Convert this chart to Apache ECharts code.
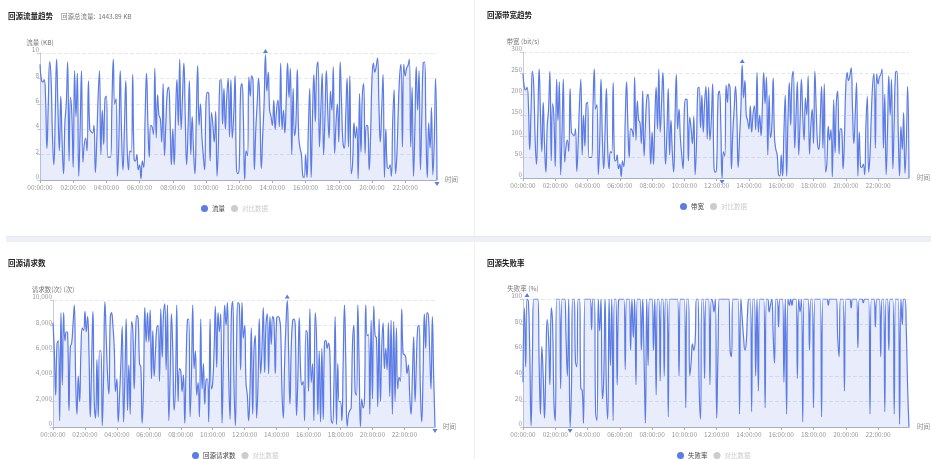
<!DOCTYPE html>
<html>
<head>
<meta charset="utf-8">
<script src="https://cdn.jsdelivr.net/npm/echarts@6/dist/echarts.min.js"></script>
<style>
  html, body { margin: 0; padding: 0; background: #fff; }
  #origin-dashboard { width: 931px; height: 459px; }
</style>
</head>
<body>
<div id="origin-dashboard"></div>
<script>
// 回源流量 (KB), 5 分钟粒度
var flowData = [
  9.1, 7.9, 7.7, 7.9, 6.5, 2.5, 6.0, 9.3, 8.0, 3.5, 1.2, 5.0, 9.5, 5.5, 2.3, 6.6, 3.0, 0.5, 4.5, 6.0, 9.3, 1.5, 6.5, 5.2,
  1.0, 8.6, 5.0, 8.4, 0.3, 4.0, 8.6, 1.4, 2.8, 3.3, 2.3, 7.8, 4.0, 3.8, 3.7, 4.3, 0.6, 3.0, 6.5, 8.6, 2.0, 5.5, 2.8, 6.4,
  6.6, 1.8, 1.8, 1.8, 6.0, 9.5, 6.0, 6.4, 0.3, 3.0, 8.6, 3.5, 0.8, 4.0, 7.8, 2.5, 0.8, 2.3, 2.2, 8.3, 1.7, 1.5, 2.0, 0.8,
  1.2, 0.1, 1.5, 1.0, 5.0, 8.4, 4.5, 1.8, 4.3, 4.2, 3.6, 8.8, 3.3, 6.7, 5.1, 4.8, 3.0, 7.6, 1.9, 4.5, 6.9, 7.3, 4.8, 1.2,
  4.0, 1.2, 5.0, 7.9, 4.3, 9.5, 4.0, 6.5, 9.2, 5.0, 1.2, 4.0, 7.8, 2.0, 5.0, 2.3, 0.5, 5.0, 9.0, 4.3, 6.0, 3.5, 2.0, 0.8,
  6.0, 6.9, 6.8, 1.5, 5.3, 4.3, 3.0, 5.4, 0.3, 3.0, 7.8, 7.9, 4.4, 7.2, 4.0, 6.5, 8.0, 3.4, 7.9, 3.3, 5.0, 8.2, 1.0, 0.5,
  1.0, 7.0, 7.6, 5.0, 0.05, 2.3, 1.9, 8.1, 6.6, 8.2, 7.8, 0.8, 4.0, 6.0, 8.0, 5.5, 0.9, 3.5, 6.0, 9.85, 7.0, 8.5, 5.5, 5.0,
  4.3, 6.3, 4.0, 5.5, 6.3, 4.2, 9.2, 4.0, 5.5, 3.7, 6.3, 9.2, 6.5, 8.8, 2.0, 7.2, 3.5, 4.5, 8.7, 3.5, 2.5, 2.0, 0.3, 0.2,
  2.0, 0.2, 4.0, 7.2, 0.2, 5.0, 8.3, 4.6, 8.6, 9.3, 2.6, 5.5, 8.4, 2.0, 5.0, 8.6, 5.5, 3.3, 7.0, 5.5, 8.9, 2.1, 4.5, 6.0,
  3.0, 9.3, 6.0, 3.0, 2.5, 5.0, 8.0, 2.6, 8.2, 0.5, 1.4, 4.5, 3.3, 4.2, 0.1, 6.8, 2.2, 6.6, 7.6, 2.1, 4.3, 4.2, 0.8, 3.5,
  8.0, 9.2, 8.5, 8.9, 9.6, 6.0, 3.0, 5.5, 8.3, 0.2, 4.0, 1.0, 0.9, 1.2, 0.3, 4.7, 7.1, 0.5, 2.0, 5.5, 8.2, 9.1, 2.6, 9.1,
  8.2, 8.8, 9.0, 9.5, 2.6, 7.3, 0.3, 4.0, 8.9, 5.5, 8.6, 0.8, 5.0, 9.2, 9.3, 4.0, 0.2, 4.5, 2.5, 5.7, 0.4, 3.0, 8.0, 0
];
// 回源带宽 (bit/s)
var bandwidthData = [
  248, 216, 210, 216, 177, 68, 164, 254, 218, 96, 33, 137, 259, 150, 63, 180, 82, 14, 123, 164, 254, 41, 177, 142,
  27, 235, 137, 229, 8, 109, 235, 38, 76, 90, 63, 213, 109, 104, 101, 117, 16, 82, 177, 235, 55, 150, 76, 175,
  180, 49, 49, 49, 164, 259, 164, 175, 8, 82, 235, 96, 22, 109, 213, 68, 22, 63, 60, 227, 46, 41, 55, 22,
  33, 3, 41, 27, 137, 229, 123, 49, 117, 115, 98, 240, 90, 183, 139, 131, 82, 207, 52, 123, 188, 199, 131, 33,
  109, 33, 137, 216, 117, 259, 109, 177, 251, 137, 33, 109, 213, 55, 137, 63, 14, 137, 246, 117, 164, 96, 55, 22,
  164, 188, 186, 41, 145, 117, 82, 147, 8, 82, 213, 216, 120, 197, 109, 177, 218, 93, 216, 90, 137, 224, 27, 14,
  27, 191, 207, 137, 0, 63, 52, 221, 180, 224, 213, 22, 109, 164, 218, 150, 25, 96, 164, 269, 191, 232, 150, 137,
  117, 172, 109, 150, 172, 115, 251, 109, 150, 101, 172, 251, 177, 240, 55, 197, 96, 123, 238, 96, 68, 55, 8, 5,
  55, 5, 109, 197, 5, 137, 227, 126, 235, 254, 71, 150, 229, 55, 137, 235, 150, 90, 191, 150, 243, 57, 123, 164,
  82, 254, 164, 82, 68, 137, 218, 71, 224, 14, 38, 123, 90, 115, 3, 186, 60, 180, 207, 57, 117, 115, 22, 96,
  218, 251, 232, 243, 262, 164, 82, 150, 227, 5, 109, 27, 25, 33, 8, 128, 194, 14, 55, 150, 224, 248, 71, 248,
  224, 240, 246, 259, 71, 199, 8, 109, 243, 150, 235, 22, 137, 251, 254, 109, 5, 123, 68, 156, 11, 82, 218, 0
];
// 回源请求数 (次)
var requestData = [
  8200, 6000, 2500, 6500, 6800, 500, 9000, 3300, 9000, 6800, 7500, 7400, 1300, 6300, 6600, 8000, 9600, 4000, 1000, 4000, 2000, 6000, 7800, 7600,
  9100, 7500, 8700, 6000, 800, 5000, 9100, 2000, 700, 5300, 800, 6000, 6000, 100, 4000, 9850, 7000, 4000, 2600, 8500, 9000, 8000, 6300, 2800,
  3800, 400, 2500, 5000, 7900, 400, 4000, 8500, 1300, 4900, 1000, 8300, 7500, 3000, 7000, 8800, 8500, 5000, 4700, 300, 3000, 9400, 6700, 9000,
  6700, 9200, 3800, 7600, 4000, 6000, 7800, 8000, 3600, 9300, 5500, 8800, 9700, 4500, 9600, 500, 4000, 8900, 6000, 1300, 3300, 9600, 2000, 4600,
  4400, 2800, 4100, 300, 5000, 8400, 8500, 800, 4000, 9600, 4600, 6000, 2500, 3500, 800, 8500, 3000, 5000, 1800, 3700, 3800, 400, 8500, 3000,
  3500, 6000, 9500, 4700, 9000, 7500, 8900, 300, 5000, 9600, 8000, 9800, 4000, 600, 8800, 9900, 3300, 100, 7000, 9800, 9600, 4500, 9800, 7000,
  8000, 3500, 2500, 500, 3000, 7800, 1000, 6000, 7200, 700, 3300, 8500, 4200, 6200, 9400, 4300, 8000, 8900, 4200, 8700, 6500, 8700, 8300, 4200,
  8500, 8700, 8600, 7800, 3000, 700, 5000, 8000, 9960, 6000, 1800, 6200, 8300, 8500, 8000, 900, 4000, 8600, 4500, 3300, 3600, 500, 7600, 7400,
  2800, 9300, 3500, 5000, 500, 9000, 7000, 1000, 6000, 400, 6200, 600, 6700, 6800, 6200, 6600, 5800, 600, 300, 3000, 8700, 200, 5000, 2000,
  2000, 500, 5000, 9600, 5000, 50, 1000, 1300, 1500, 6500, 8000, 2800, 2500, 9600, 5000, 50, 2200, 1500, 2200, 9600, 7200, 7300, 1000, 8400,
  2200, 9500, 7200, 7000, 1600, 8500, 2000, 6300, 8200, 4600, 6200, 4500, 8200, 2400, 8400, 1000, 8300, 2000, 7800, 3000, 3900, 3600, 9300, 5800,
  5700, 5500, 4200, 4900, 2500, 1000, 4000, 7100, 2000, 5000, 7800, 8000, 3000, 400, 4000, 8900, 6200, 9000, 8800, 6000, 3000, 8700, 4000, 0
];
// 回源失败率 (%)
var failRateData = [
  35, 93, 47, 100, 98, 60, 1, 55, 100, 100, 100, 100, 50, 10, 63, 40, 7, 50, 84, 70, 33, 93, 80, 20,
  5, 100, 100, 100, 30, 100, 100, 100, 70, 40, 100, 0, 30, 100, 100, 52, 47, 100, 100, 30, 29, 3, 100, 100,
  100, 100, 100, 76, 100, 100, 12, 5, 100, 75, 100, 22, 37, 100, 30, 6, 100, 48, 100, 5, 100, 100, 33, 98,
  100, 100, 100, 100, 45, 100, 100, 100, 60, 100, 70, 100, 33, 100, 100, 100, 60, 100, 55, 3, 100, 48, 100, 100,
  100, 60, 100, 25, 100, 100, 36, 100, 100, 40, 100, 100, 8, 100, 100, 100, 100, 100, 100, 100, 40, 100, 100, 100,
  100, 15, 100, 100, 40, 50, 65, 60, 67, 100, 100, 30, 6, 100, 100, 38, 100, 100, 100, 33, 100, 98, 90, 100,
  7, 60, 100, 100, 100, 100, 100, 100, 100, 100, 60, 55, 100, 100, 100, 100, 100, 10, 100, 85, 70, 60, 66, 90,
  100, 100, 12, 100, 100, 40, 100, 28, 100, 100, 100, 100, 15, 100, 100, 90, 95, 100, 73, 50, 100, 100, 78, 100,
  100, 100, 35, 100, 10, 100, 95, 100, 95, 100, 100, 100, 38, 100, 90, 100, 4, 100, 100, 100, 100, 60, 100, 100,
  15, 100, 100, 100, 100, 100, 8, 100, 100, 100, 100, 95, 100, 100, 100, 100, 100, 100, 70, 55, 100, 100, 100, 28,
  100, 100, 100, 100, 93, 100, 100, 100, 100, 62, 100, 100, 100, 97, 100, 100, 100, 100, 10, 100, 100, 100, 78, 100,
  100, 100, 55, 100, 100, 12, 100, 100, 60, 100, 100, 100, 10, 100, 100, 100, 2, 100, 80, 100, 100, 75, 30, 0
];

var panelTitles = ['回源流量趋势', '回源带宽趋势', '回源请求数', '回源失败率'];
var seriesNames = ['流量', '带宽', '回源请求数', '失败率'];
var axisNames = ['流量 (KB)', '带宽 (bit/s)', '请求数(次) (次)', '失败率 (%)'];
var yMax = [10, 300, 10000, 100];
var yInterval = [2, 50, 2000, 20];
var totalFlowText = '回源总流量:  1443.89 KB';
var compareName = '对比数据';

// x 轴: 00:00:00 ~ 23:55:00
var times = [];
for (var h = 0; h < 24; h++) {
  for (var m = 0; m < 60; m += 5) {
    times.push((h < 10 ? '0' : '') + h + ':' + (m < 10 ? '0' : '') + m + ':00');
  }
}

var lineColor = '#5b7be5';
var font = "'Noto Sans CJK SC', sans-serif";
var allData = [flowData, bandwidthData, requestData, failRateData];

var grids = [
  { left: 40, top: 53, width: 397, height: 127 },
  { left: 523, top: 52, width: 393, height: 126 },
  { left: 53, top: 300, width: 382, height: 127 },
  { left: 523, top: 299, width: 393, height: 128 }
];
var titlePos = [[8, 12], [487, 11], [8, 259], [487, 259]];
var legendPos = [[201, 205], [680, 203], [192, 452], [677, 452]];

var chart = echarts.init(document.getElementById('origin-dashboard'));

var option = {
  backgroundColor: '#fff',
  animation: false,
  textStyle: { fontFamily: font },
  title: [],
  legend: [],
  grid: grids,
  xAxis: [],
  yAxis: [],
  series: [],
  graphic: [
    { type: 'rect', shape: { x: 6, y: 236, width: 925, height: 6 }, style: { fill: '#eef0f7' }, silent: true },
    { type: 'rect', shape: { x: 6, y: 236, width: 925, height: 1 }, style: { fill: '#e3e6ef' }, silent: true },
    { type: 'rect', shape: { x: 474, y: 0, width: 1, height: 459 }, style: { fill: '#eceef4' }, silent: true }
  ]
};

for (var i = 0; i < 4; i++) {
  option.title.push({
    text: panelTitles[i],
    left: titlePos[i][0],
    top: titlePos[i][1],
    padding: 0,
    textStyle: { fontSize: 7.5, fontWeight: 'bold', color: '#222', fontFamily: font }
  });
  option.legend.push({
    data: [seriesNames[i], compareName],
    left: legendPos[i][0],
    top: legendPos[i][1],
    padding: 0,
    icon: 'circle',
    itemWidth: 7,
    itemHeight: 7,
    itemGap: 6,
    selected: { '对比数据': false },
    inactiveColor: '#ccc',
    textStyle: { fontSize: 6.5, color: '#444', padding: [0, 0, 0, -1] }
  });
  option.xAxis.push({
    type: 'category',
    gridIndex: i,
    data: times,
    boundaryGap: false,
    name: '时间',
    nameGap: 8,
    nameTextStyle: { fontSize: 6.5, color: '#888' },
    axisLine: { lineStyle: { color: '#a9afc2' } },
    axisTick: { interval: 23, length: 3, lineStyle: { color: '#a9afc2' } },
    axisLabel: { interval: 23, fontSize: 6.5, color: '#999', margin: 4 }
  });
  option.yAxis.push({
    type: 'value',
    gridIndex: i,
    min: 0,
    max: yMax[i],
    interval: yInterval[i],
    name: axisNames[i],
    nameGap: 7,
    nameTextStyle: { fontSize: 6.5, color: '#777' },
    axisLine: { show: true, lineStyle: { color: '#c8ccd8' } },
    axisTick: { show: true, length: 3, lineStyle: { color: '#c8ccd8' } },
    axisLabel: { fontSize: 6.5, color: '#999', margin: 1, verticalAlign: 'bottom' },
    splitLine: { lineStyle: { color: '#e6e8ee', type: 'dashed' } }
  });
  option.series.push({
    name: seriesNames[i],
    type: 'line',
    xAxisIndex: i,
    yAxisIndex: i,
    smooth: true,
    showSymbol: false,
    color: lineColor,
    lineStyle: { width: 1.2, color: lineColor },
    areaStyle: { color: 'rgba(91,123,229,0.2)' },
    markPoint: {
      symbol: 'triangle',
      symbolSize: [5, 4],
      label: { show: false },
      itemStyle: { color: lineColor },
      data: [
        { type: 'max', symbolOffset: [0, -4] },
        { type: 'min', symbolRotate: 180, symbolOffset: [0, 4] }
      ]
    },
    data: allData[i]
  });
  option.series.push({
    name: compareName,
    type: 'line',
    xAxisIndex: i,
    yAxisIndex: i,
    color: '#ccc',
    data: []
  });
}

// 总流量副标题
option.title.push({
  text: totalFlowText,
  left: 61,
  top: 13,
  padding: 0,
  textStyle: { fontSize: 6.5, fontWeight: 'normal', color: '#777', fontFamily: font }
});

chart.setOption(option);
window.addEventListener('resize', function () {
  chart.resize();
});
</script>
</body>
</html>
